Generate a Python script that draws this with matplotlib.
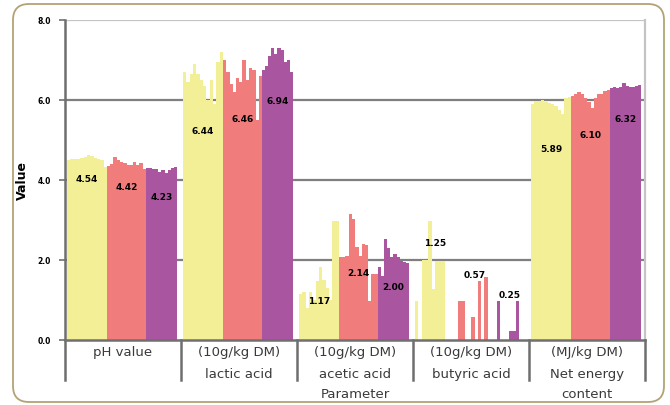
import matplotlib
matplotlib.use("Agg")
import matplotlib.pyplot as plt
from matplotlib.patches import FancyBboxPatch

# ---------------- data ----------------
categories = [
    ["pH value"],
    ["(10g/kg DM)", "lactic acid"],
    ["(10g/kg DM)", "acetic acid"],
    ["(10g/kg DM)", "butyric acid"],
    ["(MJ/kg DM)", "Net energy", "content"],
]
x_title = "Parameter"
y_title = "Value"
y_ticks = [0.0, 2.0, 4.0, 6.0, 8.0]

# mean values printed on the bars
means_yellow = [4.54, 6.44, 1.17, 1.25, 5.89]
means_salmon = [4.42, 6.46, 2.14, 0.57, 6.10]
means_purple = [4.23, 6.94, 2.00, 0.25, 6.32]

# individual sample values (thin sub-bars) per category
yellow_ph = [4.50, 4.52, 4.53, 4.52, 4.55, 4.58, 4.62, 4.60, 4.55, 4.52, 4.50, 4.33]
yellow_lactic = [6.70, 6.45, 6.65, 6.90, 6.65, 6.50, 6.35, 6.00, 6.50, 5.90, 6.95, 7.20]
yellow_acetic = [1.15, 1.20, 0.80, 1.20, 1.00, 1.48, 1.82, 1.50, 1.30, 1.00, 2.98, 2.98]
yellow_butyric = [0.98, 0.0, 2.00, 2.00, 2.98, 1.28, 1.98, 1.98, 1.98, 0.0, 0.0, 0.0]
yellow_energy = [5.90, 5.97, 5.97, 6.00, 5.95, 5.92, 5.90, 5.85, 5.75, 5.65, 6.05, 6.08]

salmon_ph = [4.35, 4.40, 4.58, 4.50, 4.45, 4.42, 4.37, 4.37, 4.45, 4.37, 4.42, 4.28]
salmon_lactic = [7.00, 6.70, 6.40, 6.20, 6.55, 6.45, 7.00, 6.50, 6.80, 6.75, 5.50, 6.60]
salmon_acetic = [2.07, 2.07, 2.10, 3.15, 3.03, 2.32, 2.10, 2.40, 2.38, 0.98, 1.65, 1.65]
salmon_butyric = [0.0, 0.98, 0.98, 0.0, 0.0, 0.57, 0.0, 1.48, 0.0, 1.57, 0.0, 0.0]
salmon_energy = [6.10, 6.15, 6.20, 6.15, 6.05, 5.95, 5.80, 6.05, 6.15, 6.15, 6.22, 6.25]

purple_ph = [4.30, 4.30, 4.28, 4.28, 4.20, 4.25, 4.17, 4.25, 4.30, 4.32]
purple_lactic = [6.75, 6.85, 7.10, 7.30, 7.15, 7.30, 7.25, 6.95, 7.00, 6.70]
purple_acetic = [1.82, 1.60, 2.52, 2.30, 2.08, 2.15, 2.08, 1.98, 1.95, 1.92]
purple_butyric = [0.0, 0.98, 0.0, 0.0, 0.0, 0.23, 0.23, 0.98, 0.0, 0.0]
purple_energy = [6.30, 6.32, 6.30, 6.32, 6.42, 6.35, 6.33, 6.32, 6.36, 6.38]

samples_yellow = [yellow_ph, yellow_lactic, yellow_acetic, yellow_butyric, yellow_energy]
samples_salmon = [salmon_ph, salmon_lactic, salmon_acetic, salmon_butyric, salmon_energy]
samples_purple = [purple_ph, purple_lactic, purple_acetic, purple_butyric, purple_energy]

# ---------------- layout / style ----------------
colors = ["#f3ef96", "#f07c7c", "#a9559f"]
offsets = [0.017, 0.362, 0.698]     # cluster start inside category
widths = [0.345, 0.336, 0.267]      # cluster width
label_y = [
    [4.03, 5.25, 0.98, 2.43, 4.78],
    [3.83, 5.53, 1.68, 1.65, 5.15],
    [3.60, 6.00, 1.33, 1.15, 5.55],
]

W, H = 670, 406
fig = plt.figure(figsize=(W / 100, H / 100), dpi=100)
fig.patch.set_facecolor("white")

frame = FancyBboxPatch((13, 3), 651, 398,
                       boxstyle="round,pad=0,rounding_size=16",
                       transform=None, fill=False, edgecolor="#b3a274", linewidth=1.3)
fig.patches.append(frame)

ax = fig.add_axes([65 / W, (H - 341) / H, (645 - 65) / W, (341 - 21) / H])
ax.set_xlim(0, len(categories))
ax.set_ylim(0, 8)

# gridlines
for yv in y_ticks[1:-1]:
    ax.axhline(yv, color="#7f7f7f", linewidth=1.6, zorder=1)
ax.axhline(8.0, color="#c4c4c4", linewidth=1.6, zorder=1)

all_samples = [samples_yellow, samples_salmon, samples_purple]
all_means = [means_yellow, means_salmon, means_purple]
for s, (samples, means) in enumerate(zip(all_samples, all_means)):
    for c, vals in enumerate(samples):
        n = len(vals)
        sw = widths[s] / n
        xs = [c + offsets[s] + k * sw for k in range(n)]
        ax.bar(xs, vals, width=sw * 1.02, align="edge", color=colors[s],
               linewidth=0, zorder=2)
        ax.text(c + offsets[s] + widths[s] / 2, label_y[s][c], f"{means[c]:.2f}",
                ha="center", va="center", fontsize=6.5, fontweight="bold",
                color="black", zorder=4)

# axes styling
for sp in ["top", "bottom", "left"]:
    ax.spines[sp].set_visible(False)
ax.spines["right"].set_color("#c4c4c4")
ax.spines["right"].set_linewidth(1.6)
ax.axhline(0, color="#6f6f6f", linewidth=1.8, zorder=3, clip_on=False)
ax.plot([0, 0], [-1.0, 8.0], color="#6f6f6f", linewidth=1.8, clip_on=False, zorder=3)
for c in range(1, len(categories) + 1):
    ax.plot([c, c], [-1.0, 0], color="#6f6f6f", linewidth=1.8, clip_on=False, zorder=3)

ax.set_xticks([])
ax.set_yticks(y_ticks)
ax.set_yticklabels([f"{v:.1f}" for v in y_ticks], fontsize=5.5, fontweight="bold")
ax.tick_params(axis="y", length=4, width=1.2, color="#6f6f6f", pad=6)

line_y = [-0.30, -0.83, -1.35]
for c, lines in enumerate(categories):
    for k, line in enumerate(lines):
        ax.text(c + 0.5, line_y[k], line, ha="center", va="center",
                fontsize=9.5, color="#3a3a3a", clip_on=False)
ax.text(len(categories) / 2, line_y[2], x_title, ha="center", va="center",
        fontsize=9.5, color="#3a3a3a", clip_on=False)

fig.text(22 / W, 1 - 181 / H, y_title, rotation=90, ha="center", va="center",
         fontsize=9, fontweight="bold")

fig.savefig("out.png", dpi=100)
